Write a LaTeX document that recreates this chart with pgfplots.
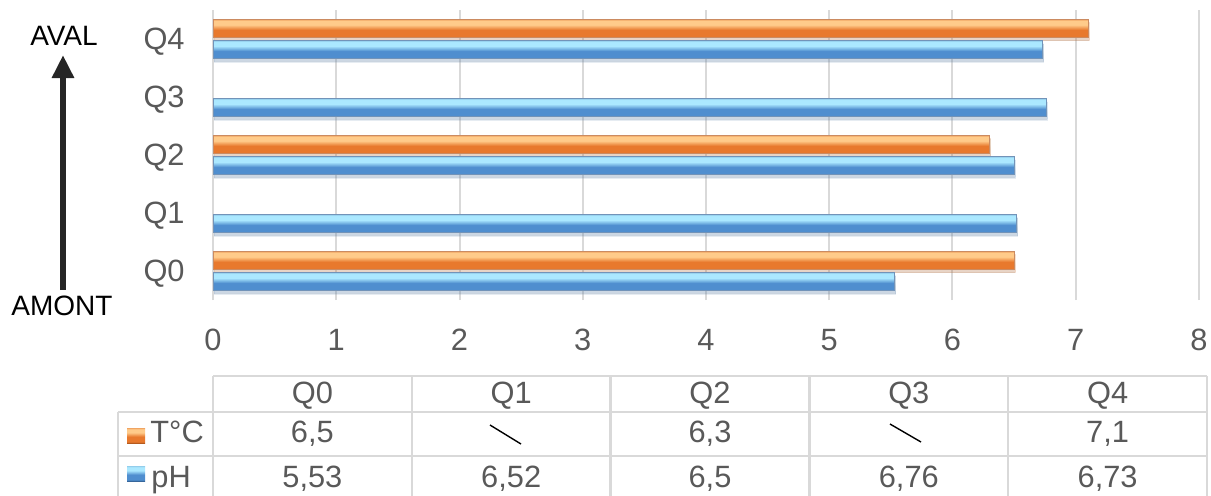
\documentclass[border=0pt]{standalone}
\usepackage{fontspec}
\setmainfont{Liberation Sans}
\usepackage{pgfplots}
\pgfplotsset{compat=1.18}
\usetikzlibrary{arrows.meta,shadows}

\definecolor{txt}{HTML}{595959}
\definecolor{gridc}{HTML}{D9D9D9}
\definecolor{arrowc}{HTML}{262626}
% orange series (T°C)
\definecolor{otop}{HTML}{F0A462}
\definecolor{olight}{HTML}{FFCB8A}
\definecolor{omid}{HTML}{E8792D}
\definecolor{obot}{HTML}{B45A1E}
% blue series (pH)
\definecolor{btop}{HTML}{93CDEB}
\definecolor{blight}{HTML}{ABE8FF}
\definecolor{bmid}{HTML}{4F8ECF}
\definecolor{bbot}{HTML}{36659A}

% bevelled bar fills: 25bp = bottom edge, 75bp = top edge of the bar
\pgfdeclareverticalshading{orangebar}{100bp}{color(0bp)=(obot); color(25bp)=(obot);
  color(29bp)=(omid); color(46bp)=(omid); color(60bp)=(olight); color(71bp)=(olight);
  color(75bp)=(otop); color(100bp)=(otop)}
\pgfdeclareverticalshading{bluebar}{100bp}{color(0bp)=(bbot); color(25bp)=(bbot);
  color(29bp)=(bmid); color(46bp)=(bmid); color(60bp)=(blight); color(71bp)=(blight);
  color(75bp)=(btop); color(100bp)=(btop)}

\newcommand{\lbl}{\fontsize{15.4}{18}\selectfont}

% one \addplot per bar so that each bar gets its own bevel shading
\pgfplotsset{
  tbar/.style={bar shift=5.3pt, draw=obot!70, line width=0.3pt, shade, shading=orangebar,
    drop shadow={shadow xshift=0.6pt, shadow yshift=-1.6pt, opacity=0.18}},
  phbar/.style={bar shift=-5.3pt, draw=bbot!70, line width=0.3pt, shade, shading=bluebar,
    drop shadow={shadow xshift=0.6pt, shadow yshift=-1.6pt, opacity=0.18}},
}

\begin{document}
\begin{tikzpicture}
\useasboundingbox (0pt,0pt) rectangle (605.5pt,-247.5pt);

\begin{axis}[
  at={(106.5pt,-150pt)}, anchor=south west,
  scale only axis, width=493pt, height=145pt,
  xmin=0, xmax=8, ymin=-0.5, ymax=4.5,
  xtick={0,...,8},
  ytick={0,...,4}, yticklabels={Q0,Q1,Q2,Q3,Q4},
  xmajorgrids, major grid style={draw=gridc, line width=1pt},
  axis line style={draw=none},
  tick style={draw=none}, major tick length=0pt,
  tick label style={font=\lbl, text=txt},
  /pgf/number format/assume math mode=true,
  xticklabel style={anchor=base, inner sep=0pt, yshift=-25pt},
  yticklabel style={anchor=base east, inner sep=0pt, xshift=-14pt, yshift=-5.4pt},
  xbar, bar width=9pt,
  clip=false,
]
% T°C (no reading at Q1 and Q3)
\addplot[tbar] coordinates {(6.5,0)};
\addplot[tbar] coordinates {(6.3,2)};
\addplot[tbar] coordinates {(7.1,4)};
% pH
\addplot[phbar] coordinates {(5.53,0)};
\addplot[phbar] coordinates {(6.52,1)};
\addplot[phbar] coordinates {(6.5,2)};
\addplot[phbar] coordinates {(6.76,3)};
\addplot[phbar] coordinates {(6.73,4)};
\end{axis}

\begin{scope}[x=0.5pt, y=-0.5pt]
  % upstream -> downstream arrow
  \draw[line width=3pt, arrowc, -{Triangle[width=10.5pt,length=11.5pt]}] (63,290) -- (63,55);
  \node[anchor=base, inner sep=0pt, font=\fontsize{14}{16}\selectfont] at (64,45) {AVAL};
  \node[anchor=base, inner sep=0pt, font=\fontsize{14}{16}\selectfont] at (62,315) {AMONT};

  % data table grid
  \begin{scope}[draw=gridc, line width=1.2pt]
    \draw (213,376) -- (1207,376);
    \draw (118,412) -- (1207,412);
    \draw (118,456) -- (1207,456);
    \draw (118,412) -- (118,496);
    \foreach \c in {213,411.8,610.6,809.4,1008.2,1207} \draw (\c,376) -- (\c,496);
  \end{scope}

  % series keys
  \shade[shading=orangebar] (127,428) rectangle (145,443);
  \shade[shading=bluebar] (127,466) rectangle (145,481);
  \begin{scope}[every node/.style={inner sep=0pt, font=\lbl, text=txt}]
    \node[anchor=base west] at (150,442) {T°C};
    \node[anchor=base west] at (151,487) {pH};
    % header
    \foreach \x/\t in {312.4/Q0, 511.2/Q1, 710/Q2, 908.8/Q3, 1107.6/Q4}
      \node[anchor=base] at (\x,403.5) {\t};
    % T°C row
    \node[anchor=base] at (312.4,442) {6,5};
    \node[anchor=base] at (710,442) {6,3};
    \node[anchor=base] at (1107.6,442) {7,1};
    % pH row
    \node[anchor=base] at (312.4,487) {5,53};
    \node[anchor=base] at (511.2,487) {6,52};
    \node[anchor=base] at (710,487) {6,5};
    \node[anchor=base] at (908.8,487) {6,76};
    \node[anchor=base] at (1107.6,487) {6,73};
  \end{scope}
  % no reading
  \draw[black, line width=0.7pt] (490,425) -- (521,444);
  \draw[black, line width=0.7pt] (890,424) -- (921,442);
\end{scope}
\end{tikzpicture}
\end{document}
